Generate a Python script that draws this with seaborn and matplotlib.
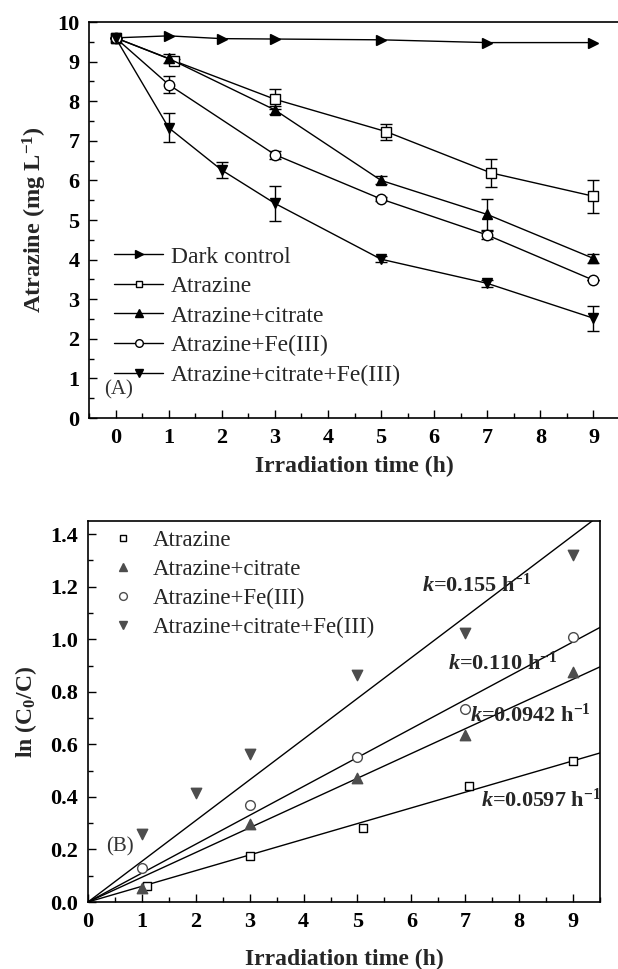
import matplotlib
matplotlib.use("Agg")
import matplotlib.pyplot as plt
from matplotlib.lines import Line2D
from matplotlib.ticker import MultipleLocator, FormatStrFormatter
import numpy as np
import pandas as pd
import seaborn as sns

# ---------------- data: (A) atrazine concentration vs time ----------------
t_dark = [0, 1, 2, 3, 5, 7, 9]
c_dark = [9.60, 9.65, 9.58, 9.57, 9.55, 9.48, 9.48]

t_atz = [0, 1.1, 3, 5.1, 7.07, 9]
c_atz = [9.60, 9.02, 8.05, 7.23, 6.19, 5.60]
e_atz = [0.0, 0.05, 0.25, 0.20, 0.35, 0.42]

t_cit = [0, 1, 3, 5, 7, 9]
c_cit = [9.60, 9.08, 7.78, 6.00, 5.14, 4.03]
e_cit = [0.0, 0.12, 0.10, 0.10, 0.40, 0.12]

t_fe = [0, 1, 3, 5, 7, 9]
c_fe = [9.60, 8.42, 6.65, 5.53, 4.62, 3.48]
e_fe = [0.0, 0.21, 0.10, 0.05, 0.10, 0.0]

t_cfe = [0, 1, 2, 3, 5, 7, 9]
c_cfe = [9.60, 7.33, 6.26, 5.42, 4.01, 3.40, 2.52]
e_cfe = [0.0, 0.37, 0.20, 0.45, 0.08, 0.08, 0.32]

# ---------------- data: (B) ln(C0/C) vs time ----------------
bt_atz = [1.1, 3, 5.1, 7.07, 9]
ln_atz = [0.062, 0.176, 0.283, 0.440, 0.537]
bt_cit = [1, 3, 5, 7, 9]
ln_cit = [0.055, 0.295, 0.473, 0.635, 0.876]
bt_fe = [1, 3, 5, 7, 9]
ln_fe = [0.130, 0.369, 0.553, 0.733, 1.010]
bt_cfe = [1, 2, 3, 5, 7, 9]
ln_cfe = [0.257, 0.413, 0.562, 0.863, 1.024, 1.320]

k_values = [0.0597, 0.0942, 0.110, 0.155]
k_labels = ["0.0597", "0.0942", "0.110", "0.155"]

labels_a = ["Dark control", "Atrazine", "Atrazine+citrate",
            "Atrazine+Fe(III)", "Atrazine+citrate+Fe(III)"]
labels_b = ["Atrazine", "Atrazine+citrate", "Atrazine+Fe(III)",
            "Atrazine+citrate+Fe(III)"]

# ---------------- style ----------------
sns.set_style("ticks")
SERIF = ["Liberation Serif", "DejaVu Serif"]
plt.rcParams.update({
    "font.family": SERIF,
    "mathtext.fontset": "custom",
    "mathtext.rm": "Liberation Serif:bold",
    "mathtext.bf": "Liberation Serif:bold",
    "mathtext.it": "Liberation Serif:italic:bold",
    "xtick.direction": "in",
    "ytick.direction": "in",
    "xtick.major.size": 6, "ytick.major.size": 6,
    "xtick.minor.size": 3.5, "ytick.minor.size": 3.5,
    "xtick.major.width": 1.0, "ytick.major.width": 1.0,
    "xtick.minor.width": 1.0, "ytick.minor.width": 1.0,
    "axes.linewidth": 1.2,
    "axes.edgecolor": "black",
    "xtick.color": "black", "ytick.color": "black",
})

TICK_FS = 16
LABEL_FS = 17

fig = plt.figure(figsize=(6.18, 9.69), dpi=100)
W, H = 618.0, 969.0

# ================= panel A =================
axA = fig.add_axes([89 / W, (H - 418) / H, 531 / W, (418 - 22) / H])
BLACK = "black"

series_a = [
    (t_dark, c_dark, None, ">", BLACK, BLACK),
    (t_atz, c_atz, e_atz, "s", "white", BLACK),
    (t_cit, c_cit, e_cit, "^", BLACK, BLACK),
    (t_fe, c_fe, e_fe, "o", "white", BLACK),
    (t_cfe, c_cfe, e_cfe, "v", BLACK, BLACK),
]

handles_a = []
for (tx, cy, err, mk, fc, ec), lab in zip(series_a, labels_a):
    df = pd.DataFrame({"t": tx, "c": cy})
    if err is not None:
        axA.errorbar(tx, cy, yerr=err, fmt="none", ecolor=BLACK,
                     elinewidth=1.0, capsize=4, capthick=1.0, zorder=2)
    sns.lineplot(data=df, x="t", y="c", ax=axA, color=BLACK, lw=1.0,
                 marker=mk, markersize=7.5 if mk != "s" else 6.5,
                 markerfacecolor=fc, markeredgecolor=ec,
                 markeredgewidth=1.0, sort=False, estimator=None,
                 legend=False, zorder=3)
    handles_a.append(Line2D([], [], color=BLACK, lw=1.0, marker=mk,
                            markersize=5.5 if mk != "s" else 4.5,
                            markerfacecolor=fc, markeredgecolor=ec,
                            markeredgewidth=1.0))

axA.set_xlim(-0.5, 9.5)
axA.set_ylim(0, 10)
axA.xaxis.set_major_locator(MultipleLocator(1))
axA.xaxis.set_minor_locator(MultipleLocator(0.5))
axA.yaxis.set_major_locator(MultipleLocator(1))
axA.yaxis.set_minor_locator(MultipleLocator(0.5))
axA.spines["right"].set_visible(False)
axA.tick_params(which="both", top=False, right=False)
axA.tick_params(which="major", labelsize=TICK_FS, pad=7)
for lbl in axA.get_xticklabels() + axA.get_yticklabels():
    lbl.set_fontweight("bold")
axA.set_xlabel("Irradiation time (h)", fontsize=LABEL_FS,
               fontweight="bold", labelpad=6)
axA.set_ylabel(r"Atrazine (mg L$^{-1}$)", fontsize=17.5,
               fontweight="bold", labelpad=6)

axA.legend(handles_a, labels_a, loc="upper left",
           bbox_to_anchor=(0.029, 0.458), frameon=False,
           fontsize=17, handlelength=2.1, handletextpad=0.3,
           labelspacing=0.34, borderaxespad=0.0)
axA.text(-0.22, 0.7, "(A)", fontsize=15, color="#333333",
         ha="left", va="center")

# ================= panel B =================
axB = fig.add_axes([88 / W, (H - 902) / H, 512 / W, (902 - 521) / H])
GRAY = "#4d4d4d"

series_b = [
    (bt_atz, ln_atz, "s", "white", BLACK, 6.0),
    (bt_cit, ln_cit, "^", GRAY, GRAY, 7.5),
    (bt_fe, ln_fe, "o", "white", GRAY, 7.0),
    (bt_cfe, ln_cfe, "v", GRAY, GRAY, 7.5),
]

xfit = np.array([0.0, 9.5])
for k in k_values:
    dff = pd.DataFrame({"t": xfit, "y": k * xfit})
    sns.lineplot(data=dff, x="t", y="y", ax=axB, color=BLACK, lw=1.0,
                 legend=False, zorder=2)

handles_b = []
for bx, by, mk, fc, ec, ms in series_b:
    dfb = pd.DataFrame({"t": bx, "y": by})
    sns.scatterplot(data=dfb, x="t", y="y", ax=axB, marker=mk,
                    s=ms ** 2, facecolor=fc, edgecolor=ec, linewidth=1.0,
                    legend=False, zorder=3)
    handles_b.append(Line2D([], [], ls="none", marker=mk, markersize=ms * 0.8,
                            markerfacecolor=fc, markeredgecolor=ec,
                            markeredgewidth=1.0))

axB.set_xlim(0, 9.5)
axB.set_ylim(0, 1.45)
axB.xaxis.set_major_locator(MultipleLocator(1))
axB.xaxis.set_minor_locator(MultipleLocator(0.5))
axB.yaxis.set_major_locator(MultipleLocator(0.2))
axB.yaxis.set_minor_locator(MultipleLocator(0.1))
axB.tick_params(which="both", top=False, right=False)
axB.tick_params(which="major", labelsize=TICK_FS, pad=7)
axB.yaxis.set_major_formatter(FormatStrFormatter("%.1f"))
for lbl in axB.get_xticklabels() + axB.get_yticklabels():
    lbl.set_fontweight("bold")
axB.set_xlabel("Irradiation time (h)", fontsize=LABEL_FS,
               fontweight="bold", labelpad=12)
axB.set_ylabel(r"ln (C$_0$/C)", fontsize=LABEL_FS, fontweight="bold",
               labelpad=8)

axB.legend(handles_b, labels_b, loc="upper left",
           bbox_to_anchor=(0.028, 1.0), frameon=False, fontsize=16.5,
           handlelength=1.0, handletextpad=0.79, labelspacing=0.34,
           borderaxespad=0.0)

k_pos = [(7.3, 0.388), (7.09, 0.71), (6.68, 0.908), (6.2, 1.205)]
for (tx, ty), kl in zip(k_pos, k_labels):
    axB.text(tx, ty, r"$k$=" + kl + r" h$^{-1}$", fontsize=16,
             fontweight="bold", ha="left", va="center")
axB.text(0.33, 0.21, "(B)", fontsize=15, color="#333333",
         ha="left", va="center")

fig.savefig("out.png", dpi=100)
